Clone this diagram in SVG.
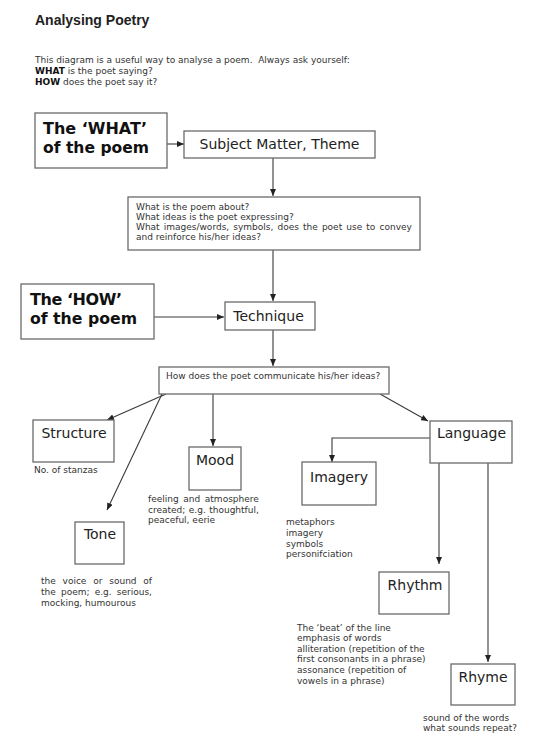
<svg xmlns="http://www.w3.org/2000/svg" width="533" height="747" viewBox="0 0 533 747">
<style>
  .box { fill: #ffffff; stroke: #6a6a6a; stroke-width: 1.3; }
  .con { fill: none; stroke: #3a3a3a; stroke-width: 1.1; marker-end: url(#arr); }
  .t { font-family: "DejaVu Sans", Verdana, sans-serif; font-size: 9px; fill: #333; }
  .lbl { font-family: "DejaVu Sans", Verdana, sans-serif; font-size: 14px; fill: #222; text-anchor: middle; }
  .big { font-family: "DejaVu Sans", Verdana, sans-serif; font-size: 16px; font-weight: bold; fill: #111; }
  .title { font-family: "Liberation Sans", Arial, sans-serif; font-size: 14px; font-weight: bold; fill: #222; }
</style>
<defs>
  <marker id="arr" markerWidth="7" markerHeight="6" refX="7" refY="3" orient="auto" markerUnits="userSpaceOnUse">
    <path d="M0,0 L7,3 L0,6 z" fill="#222"/>
  </marker>
</defs>
<rect width="533" height="747" fill="#ffffff"/>

<g id="header">
  <text class="title" x="35" y="25">Analysing Poetry</text>
  <text class="t" x="35" y="63" xml:space="preserve">This diagram is a useful way to analyse a poem.  Always ask yourself:</text>
  <text class="t" x="35" y="74"><tspan font-weight="bold" fill="#111">WHAT</tspan> is the poet saying?</text>
  <text class="t" x="35" y="85"><tspan font-weight="bold" fill="#111">HOW</tspan> does the poet say it?</text>
</g>

<g id="connectors">
  <line class="con" x1="167" y1="144" x2="184" y2="144"/>
  <line class="con" x1="273" y1="158" x2="273" y2="196"/>
  <line class="con" x1="273" y1="250" x2="273" y2="301"/>
  <line class="con" x1="154" y1="317" x2="224" y2="317"/>
  <line class="con" x1="273" y1="330" x2="273" y2="366"/>
  <line class="con" x1="166" y1="394" x2="107" y2="420"/>
  <line class="con" x1="162" y1="394" x2="107" y2="510"/>
  <line class="con" x1="213" y1="394" x2="213" y2="446"/>
  <line class="con" x1="380" y1="394" x2="428" y2="421"/>
  <polyline class="con" points="430,438 332,438 332,462"/>
  <line class="con" x1="439" y1="463" x2="439" y2="564"/>
  <line class="con" x1="488" y1="463" x2="488" y2="662"/>
</g>

<g id="what">
  <rect class="box" x="35" y="113" width="132" height="55"/>
  <text class="big" x="43" y="134" textLength="104" lengthAdjust="spacing">The ‘WHAT’</text>
  <text class="big" x="43" y="153" textLength="106" lengthAdjust="spacingAndGlyphs">of the poem</text>
</g>

<g id="subject">
  <rect class="box" x="184" y="131" width="191" height="27"/>
  <text class="lbl" x="279.5" y="149">Subject Matter, Theme</text>
</g>

<g id="questions">
  <rect class="box" x="128" y="197" width="292" height="53"/>
  <text class="t" x="136" y="210">What is the poem about?</text>
  <text class="t" x="136" y="220">What ideas is the poet expressing?</text>
  <text class="t" x="136" y="230" word-spacing="1.25">What images/words, symbols, does the poet use to convey</text>
  <text class="t" x="136" y="240">and reinforce his/her ideas?</text>
</g>

<g id="how">
  <rect class="box" x="21" y="284" width="133" height="55"/>
  <text class="big" x="30" y="305" textLength="92" lengthAdjust="spacing">The ‘HOW’</text>
  <text class="big" x="30" y="324" textLength="107" lengthAdjust="spacingAndGlyphs">of the poem</text>
</g>

<g id="technique">
  <rect class="box" x="225" y="302" width="90" height="28"/>
  <text class="lbl" x="268.5" y="321">Technique</text>
</g>

<g id="communicate">
  <rect class="box" x="159" y="367" width="230" height="27"/>
  <text class="t" x="166" y="379">How does the poet communicate his/her ideas?</text>
</g>

<g id="structure">
  <rect class="box" x="33" y="420" width="81" height="42"/>
  <text class="lbl" x="74" y="438">Structure</text>
  <text class="t" x="34" y="473">No. of stanzas</text>
</g>

<g id="mood">
  <rect class="box" x="189" y="447" width="52" height="43"/>
  <text class="lbl" x="215" y="465">Mood</text>
  <text class="t" x="148" y="502" word-spacing="1.75">feeling and atmosphere</text>
  <text class="t" x="148" y="513" word-spacing="0.6">created; e.g. thoughtful,</text>
  <text class="t" x="148" y="523">peaceful, eerie</text>
</g>

<g id="tone">
  <rect class="box" x="75" y="522" width="49" height="42"/>
  <text class="lbl" x="100" y="539">Tone</text>
  <text class="t" x="41" y="584" word-spacing="3.95">the voice or sound of</text>
  <text class="t" x="41" y="595" word-spacing="2.3">the poem; e.g. serious,</text>
  <text class="t" x="41" y="606">mocking, humourous</text>
</g>

<g id="language">
  <rect class="box" x="430" y="421" width="82" height="42"/>
  <text class="lbl" x="471.5" y="438">Language</text>
</g>

<g id="imagery">
  <rect class="box" x="302" y="462" width="74" height="43"/>
  <text class="lbl" x="339" y="482">Imagery</text>
  <text class="t" x="286" y="525">metaphors</text>
  <text class="t" x="286" y="536">imagery</text>
  <text class="t" x="286" y="547">symbols</text>
  <text class="t" x="286" y="557">personifciation</text>
</g>

<g id="rhythm">
  <rect class="box" x="379" y="572" width="70" height="42"/>
  <text class="lbl" x="415" y="590">Rhythm</text>
  <text class="t" x="297" y="631">The ‘beat’ of the line</text>
  <text class="t" x="297" y="641">emphasis of words</text>
  <text class="t" x="297" y="652">alliteration (repetition of the</text>
  <text class="t" x="297" y="662">first consonants in a phrase)</text>
  <text class="t" x="297" y="673">assonance (repetition of</text>
  <text class="t" x="297" y="684">vowels in a phrase)</text>
</g>

<g id="rhyme">
  <rect class="box" x="451" y="664" width="64" height="41"/>
  <text class="lbl" x="483" y="682">Rhyme</text>
  <text class="t" x="423" y="721">sound of the words</text>
  <text class="t" x="423" y="731">what sounds repeat?</text>
</g>
</svg>
